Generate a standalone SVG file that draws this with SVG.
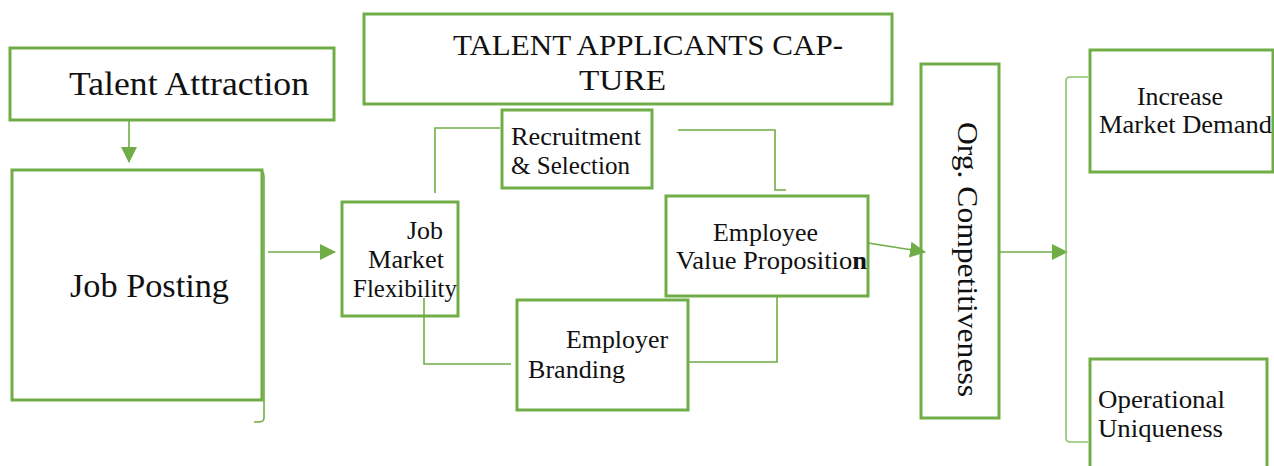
<svg xmlns="http://www.w3.org/2000/svg" width="1274" height="466" viewBox="0 0 1274 466">
  <defs>
    <marker id="arr" markerUnits="userSpaceOnUse" markerWidth="16" markerHeight="16" viewBox="0 0 16 16" refX="15" refY="8" orient="auto">
      <path d="M0,0 L16,8 L0,16 Z" fill="#70AD47"/>
    </marker>
    <style>
      .box { fill: #ffffff; stroke: #70AD47; stroke-width: 3; }
      .conn { fill: none; stroke: #70AD47; stroke-width: 1.6; }
      .brk { fill: none; stroke: #8DC26B; stroke-width: 1.6; }
      text { font-family: "Liberation Serif", "Times New Roman", serif; fill: #111111; }
      .big { font-size: 33px; }
      .mid { font-size: 30px; }
      .sm { font-size: 25px; }
    </style>
  </defs>
  <rect width="1274" height="466" fill="#ffffff"/>

  <g id="talent-attraction">
    <rect class="box" x="10" y="48" width="324" height="72"/>
    <text class="big" x="69" y="95" textLength="240" lengthAdjust="spacingAndGlyphs">Talent Attraction</text>
  </g>

  <g id="job-posting">
    <rect class="box" x="12" y="170" width="250" height="230"/>
    <text class="big" x="70" y="297" textLength="159" lengthAdjust="spacingAndGlyphs">Job Posting</text>
  </g>

  <g id="talent-applicants-capture">
    <rect class="box" x="364" y="14" width="528" height="90"/>
    <text class="mid" x="453" y="55" textLength="390" lengthAdjust="spacingAndGlyphs">TALENT APPLICANTS CAP-</text>
    <text class="mid" x="579" y="90" textLength="87" lengthAdjust="spacingAndGlyphs">TURE</text>
  </g>

  <g id="job-market-flexibility">
    <rect class="box" x="342" y="202" width="116" height="114"/>
    <text class="sm" x="407" y="239" textLength="36" lengthAdjust="spacingAndGlyphs">Job</text>
    <text class="sm" x="368" y="268" textLength="76" lengthAdjust="spacingAndGlyphs">Market</text>
    <text class="sm" x="353" y="297" textLength="104" lengthAdjust="spacingAndGlyphs">Flexibility</text>
  </g>

  <g id="recruitment-selection">
    <rect class="box" x="502" y="110" width="150" height="78"/>
    <text class="sm" x="511" y="145" textLength="130" lengthAdjust="spacingAndGlyphs">Recruitment</text>
    <text class="sm" x="511" y="174" textLength="119" lengthAdjust="spacingAndGlyphs">&amp; Selection</text>
  </g>

  <g id="employee-value-proposition">
    <rect class="box" x="666" y="196" width="202" height="100"/>
    <text class="sm" x="713" y="241" textLength="105" lengthAdjust="spacingAndGlyphs">Employee</text>
    <text class="sm" x="676" y="269" textLength="191" lengthAdjust="spacingAndGlyphs">Value Propositio<tspan font-weight="bold">n</tspan></text>
  </g>

  <g id="employer-branding">
    <rect class="box" x="517" y="300" width="171" height="110"/>
    <text class="sm" x="566" y="348" textLength="102" lengthAdjust="spacingAndGlyphs">Employer</text>
    <text class="sm" x="528" y="378" textLength="97" lengthAdjust="spacingAndGlyphs">Branding</text>
  </g>

  <g id="org-competitiveness">
    <rect class="box" x="921" y="64" width="78" height="354"/>
    <text class="mid" font-size="32" transform="translate(958,122) rotate(90)" x="0" y="0" textLength="275" lengthAdjust="spacingAndGlyphs">Org. Competitiveness</text>
  </g>

  <g id="increase-market-demand">
    <rect class="box" x="1090" y="50" width="183" height="122"/>
    <text class="sm" x="1137" y="105" textLength="86" lengthAdjust="spacingAndGlyphs">Increase</text>
    <text class="sm" x="1099" y="133" textLength="173" lengthAdjust="spacingAndGlyphs">Market Demand</text>
  </g>

  <g id="operational-uniqueness">
    <rect class="box" x="1090" y="359" width="177" height="112"/>
    <text class="sm" x="1098" y="408" textLength="127" lengthAdjust="spacingAndGlyphs">Operational</text>
    <text class="sm" x="1098" y="437" textLength="125" lengthAdjust="spacingAndGlyphs">Uniqueness</text>
  </g>

  <g id="connectors">
    <line class="conn" x1="129" y1="120" x2="129" y2="162" marker-end="url(#arr)"/>
    <path class="conn" d="M257,170 Q264,170 264,176 L264,418 Q264,422 258,422 L254,422"/>
    <line class="conn" x1="268" y1="252" x2="335" y2="252" marker-end="url(#arr)"/>
    <path class="conn" d="M435,193 L435,128 L500,128"/>
    <path class="conn" d="M678,130 L775,130 L775,190 L786,190"/>
    <path class="conn" d="M424,298 L424,364 L511,364"/>
    <path class="conn" d="M777,296 L777,362 L688,362"/>
    <line class="conn" x1="868" y1="243" x2="925" y2="252" marker-end="url(#arr)"/>
    <line class="conn" x1="999" y1="252" x2="1067" y2="252" marker-end="url(#arr)"/>
    <path class="brk" d="M1088,77 L1070,77 Q1066,77 1066,81 L1066,438 Q1066,442 1070,442 L1088,442"/>
  </g>
</svg>
